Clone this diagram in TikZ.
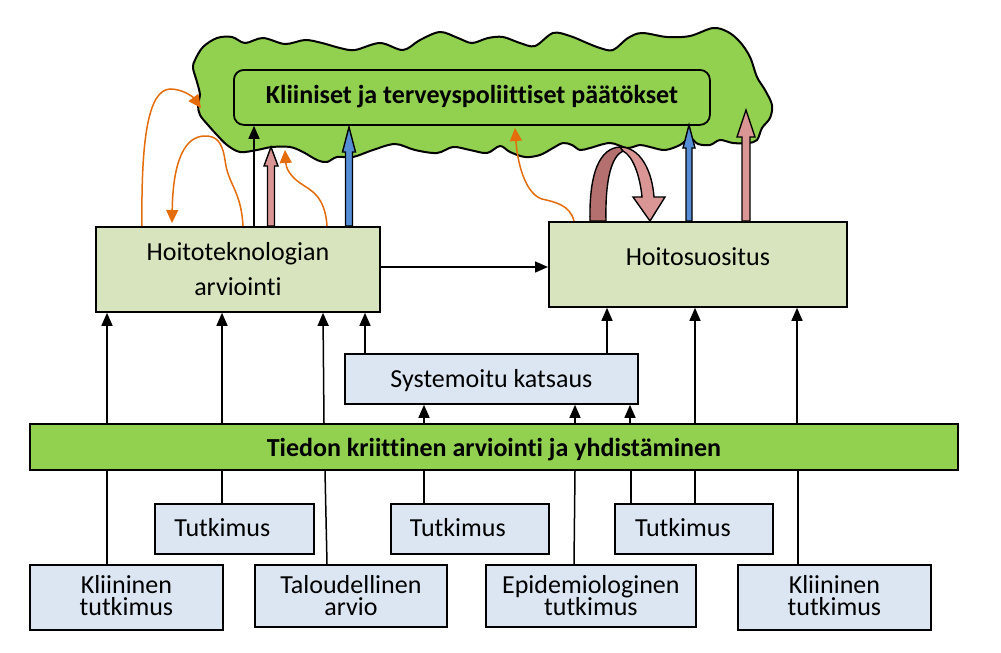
\documentclass[tikz,border=0pt]{standalone}
\usepackage{fontspec}
\setmainfont{Carlito}[Ligatures={NoCommon}]
\usetikzlibrary{arrows.meta}
\definecolor{lgreen}{HTML}{D7E4BD}
\definecolor{lblue}{HTML}{DCE6F2}
\definecolor{bgreen}{HTML}{92D050}
\definecolor{orng}{HTML}{E46C0A}
\definecolor{pnk}{HTML}{D99694}
\definecolor{dpnk}{HTML}{B3706E}
\definecolor{blu}{HTML}{558ED5}
\newcommand\tightlines{\lineskiplimit-100pt\relax\lineskip0pt\relax}
\newcommand\txtat[2]{\raisebox{#1}[0pt][0pt]{\vtop{\tightlines\halign{\hfil##\hfil\cr#2\crcr}}}}
\newcommand\fatarrow[7]{\draw[fatst,fill=#7] (#1-#4,#2) -- (#1-#4,#3+#6) -- (#1-#5,#3+#6) -- (#1,#3) -- (#1+#5,#3+#6) -- (#1+#4,#3+#6) -- (#1+#4,#2) -- cycle;}
\begin{document}
\begin{tikzpicture}[x=1pt,y=-1pt,
  box/.style={draw=black, line width=1.8pt, inner sep=0pt, anchor=north west,
    font=\fontsize{26}{22}\selectfont},
  conn/.style={draw=black, line width=1.5pt},
  arr/.style={conn, -{Triangle[length=13pt,width=11pt]}},
  orarr/.style={draw=orng, line width=1.5pt, -{Triangle[length=13pt,width=12pt]}},
  fatst/.style={draw=black, line width=1.4pt, line join=miter},
  cloudst/.style={draw=black, line width=2pt, fill=bgreen}
]
\useasboundingbox (0,0) rectangle (1001,653);

% cloud
\draw[cloudst] plot[smooth cycle, tension=0.55] coordinates {
(195,60) (203,47) (217,38) (232,37) (245,43) (263,38) (285,44) (305,40) (322,43)
(340,48) (355,50) (380,43) (403,50) (420,40) (440,32) (458,38) (472,43) (488,38)
(503,37) (520,43) (535,46) (553,33) (570,36) (587,43) (600,48) (613,50) (628,38)
(642,33) (667,37) (690,36) (713,28) (728,32) (740,42) (750,57) (757,77) (765,90)
(772,105) (770,118) (762,128) (757,140) (748,143) (733,143) (720,140) (710,145)
(698,144) (690,138) (680,145) (665,150) (650,147) (640,145) (627,148) (610,143)
(590,148) (580,150) (572,145) (563,143) (553,148) (540,155) (525,157) (510,152)
(500,146) (487,153) (470,150) (453,147) (437,153) (415,150) (395,144) (373,150)
(353,157) (337,157) (327,162) (317,160) (303,152) (290,147) (272,147) (257,150)
(240,152) (227,145) (217,135) (208,125) (200,115) (198,105) (200,95) (197,82) (193,68)};

% decisions
\node[box, fill=bgreen, rounded corners=10pt, minimum width=476pt, minimum height=55pt,
  font=\bfseries\fontsize{26}{30}\selectfont] (kp) at (233,69)
  {\txtat{-6.5pt}{Kliiniset ja terveyspoliittiset päätökset}};

% middle boxes
\node[box, fill=lgreen, minimum width=284pt, minimum height=85pt,
  font=\fontsize{26}{35}\selectfont] (ht) at (95,226)
  {\txtat{8.5pt}{Hoitoteknologian\cr arviointi}};
\node[box, fill=lgreen, minimum width=298pt, minimum height=85pt] (hs) at (548,221)
  {\txtat{-1.5pt}{Hoitosuositus}};
\node[box, fill=lblue, minimum width=293pt, minimum height=50pt] (sys) at (344,353)
  {\txtat{-9pt}{Systemoitu katsaus}};

% bar
\node[box, fill=bgreen, minimum width=928pt, minimum height=46pt,
  font=\bfseries\fontsize{26}{30}\selectfont] (bar) at (29,423)
  {\txtat{-10pt}{Tiedon kriittinen arviointi ja yhdistäminen}};

% bottom boxes
\node[box, fill=lblue, minimum width=159pt, minimum height=50pt] (tu1) at (154,503)
  {\txtat{-8pt}{\hspace*{-24pt}Tutkimus}};
\node[box, fill=lblue, minimum width=158pt, minimum height=50pt] (tu2) at (390,503)
  {\txtat{-8pt}{\hspace*{-24pt}Tutkimus}};
\node[box, fill=lblue, minimum width=158pt, minimum height=50pt] (tu3) at (614,503)
  {\txtat{-8pt}{\hspace*{-22pt}Tutkimus}};
\node[box, fill=lblue, minimum width=193pt, minimum height=65pt] (kl1) at (29,564)
  {\txtat{3.5pt}{Kliininen\cr tutkimus}};
\node[box, fill=lblue, minimum width=192pt, minimum height=62pt] (tal) at (254,564)
  {\txtat{2pt}{Taloudellinen\cr arvio}};
\node[box, fill=lblue, minimum width=210pt, minimum height=62pt] (epi) at (485,564)
  {\txtat{2pt}{Epidemiologinen\cr tutkimus}};
\node[box, fill=lblue, minimum width=193pt, minimum height=65pt] (kl2) at (737,564)
  {\txtat{3.5pt}{Kliininen\cr tutkimus}};

% lines from sources to the bar
\draw[conn] (kl1.north -| 107,0) -- (bar.south -| 107,0);
\draw[conn] (tu1.north -| 222,0) -- (bar.south -| 222,0);
\draw[conn] (tal.north -| 327,0) -- (bar.south -| 325,0);
\draw[conn] (tu2.north -| 424,0) -- (bar.south -| 424,0);
\draw[conn] (epi.north -| 574,0) -- (bar.south -| 575,0);
\draw[conn] (tu3.north -| 631,0) -- (bar.south -| 631,0);
\draw[conn] (tu3.north -| 695,0) -- (bar.south -| 695,0);
\draw[conn] (kl2.north -| 798,0) -- (bar.south -| 798,0);

% arrows from the bar upwards
\draw[arr] (bar.north -| 107,0) -- (ht.south -| 107,0);
\draw[arr] (bar.north -| 222,0) -- (ht.south -| 222,0);
\draw[arr] (bar.north -| 324,0) -- (ht.south -| 323,0);
\draw[arr] (bar.north -| 424,0) -- (sys.south -| 424,0);
\draw[arr] (bar.north -| 575,0) -- (sys.south -| 575,0);
\draw[arr] (bar.north -| 630,0) -- (sys.south -| 630,0);
\draw[arr] (bar.north -| 695,0) -- (hs.south -| 695,0);
\draw[arr] (bar.north -| 797,0) -- (hs.south -| 797,0);
\draw[arr] (sys.north -| 365,0) -- (ht.south -| 365,0);
\draw[arr] (sys.north -| 607,0) -- (hs.south -| 607,0);
\draw[arr] (ht.east |- 0,267) -- (hs.west |- 0,267);
\draw[arr] (ht.north -| 254,0) -- (kp.south -| 254,0);

% thick arrows
\fatarrow{271}{226}{147}{3.5}{7}{19}{pnk}
\fatarrow{349}{226}{127}{3.5}{6.5}{25}{blu}
\fatarrow{689}{221}{125}{3}{6}{23}{blu}
\fatarrow{746}{221}{110}{4}{9}{27}{pnk}

% U-turn arrow
\draw[fatst, fill=dpnk] (590,221) .. controls (589,172) and (600,148) .. (620,147)
  -- (623,151) .. controls (612,156) and (605,178) .. (606,221) -- cycle;
\draw[fatst, fill=pnk] (620,147) .. controls (640,147) and (652,170) .. (654,197)
  -- (665,197) -- (650,221) -- (633,197) -- (642,197)
  .. controls (640,176) and (633,156) .. (623,151) -- cycle;

% orange feedback curves
\draw[orarr] (ht.north -| 142,0) .. controls (141,140) and (148,90) .. (170,89)
  .. controls (183,89) and (193,97) .. (201,108);
\draw[orarr] (ht.north -| 243,0) .. controls (241,190) and (228,185) .. (225,160)
  .. controls (222,140) and (215,136) .. (205,136)
  .. controls (185,136) and (173,160) .. (172,223);
\draw[orarr] (ht.north -| 327,0) .. controls (325,195) and (310,190) .. (300,183)
  .. controls (290,176) and (286,168) .. (285,150);
\draw[orarr] (hs.north -| 574,0) .. controls (570,205) and (555,202) .. (542,199)
  .. controls (528,195) and (518,170) .. (515,128);
\end{tikzpicture}
\end{document}
